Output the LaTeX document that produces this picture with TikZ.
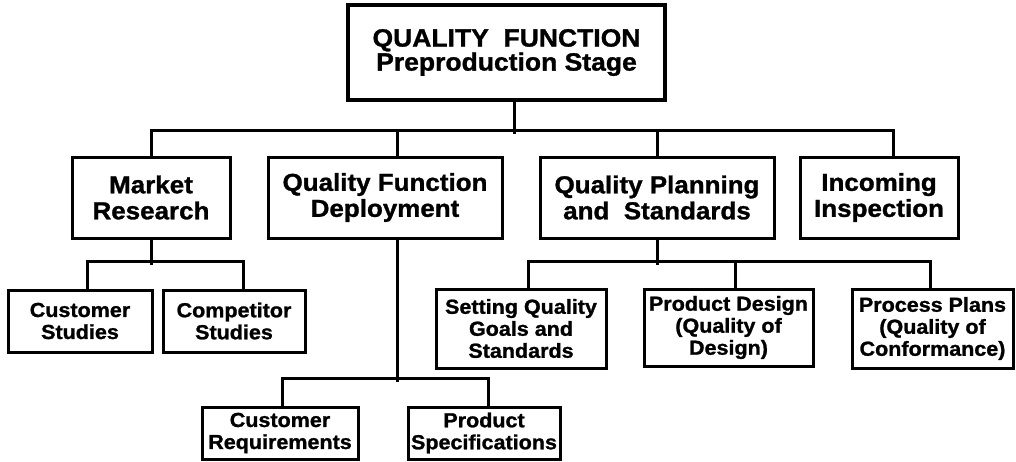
\documentclass[tikz,border=0pt]{standalone}
\usepackage{fontspec}
\newfontfamily\hv[FakeStretch=1.06, BoldFeatures={FakeBold=1.2}]{Liberation Sans}
\tikzset{
  qbox/.style 2 args={draw, line width=3pt, inner sep=0pt, align=center,
    minimum width=#1, minimum height=#2},
  lvtop/.style={font=\hv\bfseries\fontsize{25}{20.5}\selectfont},
  lvtwo/.style={font=\hv\bfseries\fontsize{24.5}{26}\selectfont},
  lvthree/.style={font=\hv\bfseries\fontsize{20.3}{22}\selectfont},
  link/.style={line width=3pt}
}

\begin{document}
\begin{tikzpicture}[x=1pt,y=-1pt]
  \useasboundingbox (0,0) rectangle (1016,461);
  % head
  \node[qbox={317pt}{95pt}, line width=4.5pt, lvtop] (top) at (506.5,52.5) {QUALITY\ \ FUNCTION\\Preproduction Stage};
  % second row
  \node[qbox={158pt}{81pt}, lvtwo] (mkt) at (151,197.5) {Market\\Research};
  \node[qbox={234pt}{81pt}, lvtwo] (qfd) at (385,197.5) {Quality Function\\Deployment};
  \node[qbox={234pt}{81pt}, lvtwo] (qps) at (657,197.5) {Quality Planning\\and\ \ Standards};
  \node[qbox={158pt}{81pt}, lvtwo] (inc) at (879,197.5) {Incoming\\Inspection};
  % third row
  \node[qbox={144pt}{62pt}, lvthree] (cst) at (80,321) {Customer\\Studies};
  \node[qbox={142pt}{62pt}, lvthree] (cmp) at (234,321) {Competitor\\Studies};
  \node[qbox={170pt}{79pt}, lvthree] (sqg) at (521,328.5) {Setting Quality\\Goals and\\Standards};
  \node[qbox={169pt}{77pt}, lvthree] (pdd) at (728.5,327.5) {Product Design\\(Quality of\\Design)};
  \node[qbox={161pt}{79pt}, lvthree] (ppl) at (932.5,328.5) {Process Plans\\(Quality of\\Conformance)};
  % bottom row
  \node[qbox={156pt}{52pt}, lvthree] (crq) at (280,433) {Customer\\Requirements};
  \node[qbox={152pt}{52pt}, lvthree] (psp) at (484,433) {Product\\Specifications};

  % connectors
  \draw[link] ([xshift=7.5pt]top.south) -- ++(0,32);
  \draw[link] (mkt.north) -- ++(0,-25) -| ([xshift=14pt]inc.north);
  \draw[link] ([xshift=12pt]qfd.north) -- ++(0,-25);
  \draw[link] (qps.north) -- ++(0,-25);
  \draw[link] (mkt.south) -- ++(0,25);
  \draw[link] ([xshift=7pt]cst.north) -- ++(0,-27) -| ([xshift=9pt]cmp.north);
  \draw[link] (qps.south) -- ++(0,25);
  \draw[link] ([xshift=7pt]sqg.north) -- ++(0,-26) -| ([xshift=-2.5pt]ppl.north);
  \draw[link] ([xshift=6.5pt]pdd.north) -- ++(0,-26);
  \draw[link] ([xshift=12pt]qfd.south) -- ++(0,142);
  \draw[link] ([xshift=2pt]crq.north) -- ++(0,-27) -| ([xshift=4pt]psp.north);
\end{tikzpicture}
\end{document}
